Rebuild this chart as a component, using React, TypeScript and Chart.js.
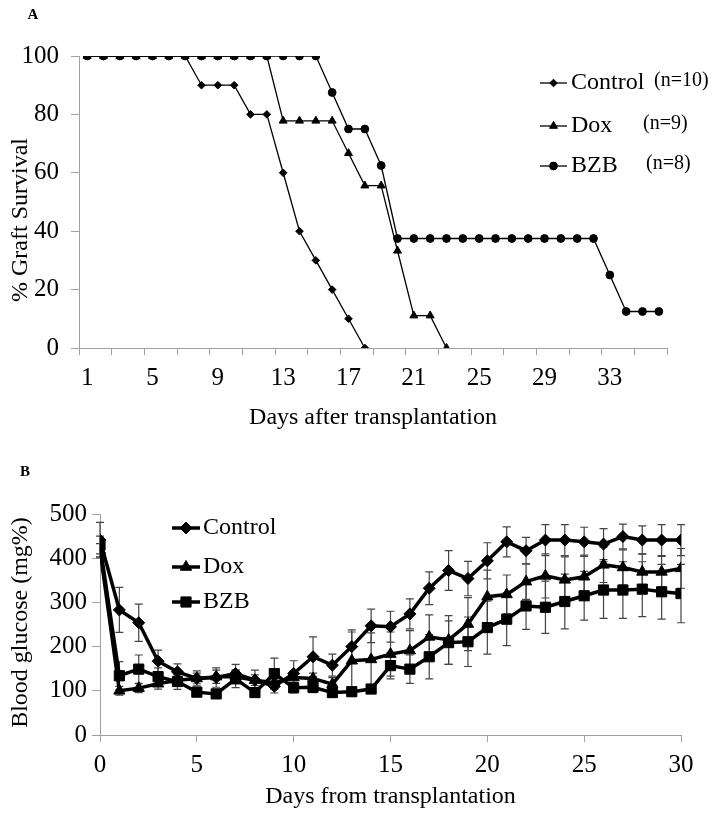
import React, { useEffect, useRef } from 'react';
import { Chart, registerables } from 'chart.js';
import { drawPoint } from 'chart.js/helpers';

Chart.register(...registerables);

const FONT = '"Liberation Serif", "Times New Roman", Times, serif';
const AXIS_GREY = '#a0a0a0';

// ---------- Panel A: graft survival ----------
const survivalDays = ['1','2','3','4','5','6','7','8','9','10','11','12','13','14','15','16','17','18','19','20','21','22','23','24','25','26','27','28','29','30','31','32','33','34','35','36'];
const survivalTickLabels = ['1','5','9','13','17','21','25','29','33'];
const survivalSeriesNames = ['Control', 'Dox', 'BZB'];
const survivalGroupSizes = ['(n=10)', '(n=9)', '(n=8)'];
const controlSurvival = [100,100,100,100,100,100,100,90,90,90,80,80,60,40,30,20,10,0,null,null,null,null,null,null,null,null,null,null,null,null,null,null,null,null,null,null];
const doxSurvival = [100,100,100,100,100,100,100,100,100,100,100,100,77.8,77.8,77.8,77.8,66.7,55.6,55.6,33.3,11.1,11.1,0,null,null,null,null,null,null,null,null,null,null,null,null,null];
const bzbSurvival = [100,100,100,100,100,100,100,100,100,100,100,100,100,100,100,87.5,75,75,62.5,37.5,37.5,37.5,37.5,37.5,37.5,37.5,37.5,37.5,37.5,37.5,37.5,37.5,25,12.5,12.5,12.5];
const survivalYTicks = [0, 20, 40, 60, 80, 100];

// ---------- Panel B: blood glucose ----------
const glucoseDays = [0,1,2,3,4,5,6,7,8,9,10,11,12,13,14,15,16,17,18,19,20,21,22,23,24,25,26,27,28,29,30];
const glucoseSeriesNames = ['Control', 'Dox', 'BZB'];
const controlGlucose = [441,283,254,167,143,128,130,139,124,110,139,177,158,200,247,245,274,332,372,354,394,437,417,441,441,437,432,449,441,441,441];
const controlGlucoseErr = [40,51,42,25,18,17,22,21,23,15,29,45,25,38,38,35,34,37,45,39,41,34,30,35,35,33,35,28,32,35,35];
const doxGlucose = [418,100,106,116,124,128,132,132,124,118,130,128,115,168,171,183,191,222,215,251,313,318,347,360,351,358,385,379,369,369,377];
const doxGlucoseErr = [15,10,10,12,12,12,15,15,12,12,15,12,15,65,60,50,45,50,55,60,60,44,40,50,52,49,40,40,41,35,45];
const bzbGlucose = [430,134,149,132,121,97,93,127,96,139,107,108,96,98,104,157,149,177,209,211,243,262,292,289,302,315,328,328,330,324,320];
const bzbGlucoseErr = [20,32,32,20,18,10,10,20,10,35,12,12,10,10,10,30,32,50,49,56,60,60,53,59,62,55,64,64,62,62,66];
const glucoseYTicks = [0, 100, 200, 300, 400, 500];
const glucoseXTicks = [0, 5, 10, 15, 20, 25, 30];

// ---------- plugins ----------
const errorBarPlugin = {
  id: 'errorBars',
  beforeDatasetsDraw(chart: any, _args: any, opts: any) {
    const ctx = chart.ctx;
    const yScale = chart.scales.y;
    chart.data.datasets.forEach((ds: any, di: number) => {
      if (!ds.errors) return;
      const meta = chart.getDatasetMeta(di);
      ctx.save();
      ctx.strokeStyle = opts.color;
      ctx.lineWidth = opts.width;
      meta.data.forEach((pt: any, i: number) => {
        const v = ds.values[i];
        const e = ds.errors[i];
        if (v == null || e == null) return;
        const yt = yScale.getPixelForValue(v + e);
        const yb = yScale.getPixelForValue(v - e);
        const c = opts.cap;
        ctx.beginPath();
        ctx.moveTo(pt.x, yt); ctx.lineTo(pt.x, yb);
        ctx.moveTo(pt.x - c, yt); ctx.lineTo(pt.x + c, yt);
        ctx.moveTo(pt.x - c, yb); ctx.lineTo(pt.x + c, yb);
        ctx.stroke();
      });
      ctx.restore();
    });
  },
};

const legendPlugin = {
  id: 'drawnLegend',
  afterDraw(chart: any, _args: any, opts: any) {
    const ctx = chart.ctx;
    chart.data.datasets.forEach((ds: any, i: number) => {
      const y = opts.rows[i];
      ctx.save();
      ctx.strokeStyle = '#000';
      ctx.fillStyle = '#000';
      ctx.lineWidth = ds.borderWidth;
      ctx.beginPath();
      ctx.moveTo(opts.x, y);
      ctx.lineTo(opts.x + opts.lineLen, y);
      ctx.stroke();
      ctx.lineWidth = 1;
      drawPoint(ctx, { pointStyle: ds.pointStyle, radius: ds.pointRadius, rotation: 0, borderWidth: 1 } as any, opts.x + opts.lineLen / 2, y);
      ctx.font = `${opts.fontSize}px ${FONT}`;
      ctx.textAlign = 'left';
      ctx.textBaseline = 'middle';
      ctx.fillText(ds.label, opts.x + opts.lineLen + opts.gap, y);
      if (opts.notes) {
        ctx.font = `${opts.noteSize}px ${FONT}`;
        ctx.fillText(opts.notes[i], opts.noteX[i], y - 2);
      }
      ctx.restore();
    });
  },
};

const titlesPlugin = {
  id: 'axisTitles',
  afterDraw(chart: any, _args: any, opts: any) {
    const { ctx, chartArea } = chart;
    ctx.save();
    ctx.fillStyle = '#000';
    ctx.textAlign = 'center';
    ctx.textBaseline = 'middle';
    ctx.font = `${opts.size}px ${FONT}`;
    ctx.fillText(opts.xTitle, (chartArea.left + chartArea.right) / 2, chartArea.bottom + opts.xOffset);
    ctx.save();
    ctx.translate(chartArea.left - opts.yOffset, (chartArea.top + chartArea.bottom) / 2 + opts.yShift);
    ctx.rotate(-Math.PI / 2);
    ctx.fillText(opts.yTitle, 0, 0);
    ctx.restore();
    ctx.font = `bold ${opts.panelSize}px ${FONT}`;
    ctx.fillText(opts.panel, opts.panelX, opts.panelY);
    ctx.restore();
  },
};

function SurvivalChart() {
  const ref = useRef<HTMLCanvasElement>(null);
  useEffect(() => {
    const markers = ['rectRot', 'triangle', 'circle'];
    const radii = [3.8, 4.6, 3.9];
    const series = [controlSurvival, doxSurvival, bzbSurvival];
    const chart = new Chart(ref.current as HTMLCanvasElement, {
      type: 'line',
      data: {
        labels: survivalDays,
        datasets: series.map((d, i) => ({
          label: survivalSeriesNames[i],
          data: d,
          borderColor: '#000',
          backgroundColor: '#000',
          borderWidth: 1.3,
          pointStyle: markers[i],
          pointRadius: radii[i],
          pointBackgroundColor: '#000',
          pointBorderColor: '#000',
          pointBorderWidth: 1,
          tension: 0,
          spanGaps: false,
        })),
      },
      plugins: [legendPlugin, titlesPlugin],
      options: {
        animation: false,
        responsive: true,
        maintainAspectRatio: false,
        layout: { padding: { left: 0, right: 53, top: 56, bottom: 0 } },
        scales: {
          x: {
            type: 'category',
            offset: true,
            afterFit: (s: any) => { s.height = 445 - 348; },
            grid: {
              offset: true,
              drawOnChartArea: false,
              drawTicks: true,
              tickLength: 7,
              color: (c: any) => (c.index === undefined || c.index % 2 === 0 ? AXIS_GREY : 'rgba(0,0,0,0)'),
            },
            border: { color: AXIS_GREY, width: 1 },
            ticks: {
              autoSkip: false,
              maxRotation: 0,
              padding: 8,
              color: '#000',
              font: { family: FONT, size: 25 },
              callback: (_v: any, i: number) => (survivalTickLabels.includes(survivalDays[i]) ? survivalDays[i] : ''),
            },
          },
          y: {
            min: 0,
            max: 100,
            afterFit: (s: any) => { s.width = 79; },
            afterBuildTicks: (s: any) => { s.ticks = survivalYTicks.map((v) => ({ value: v })); },
            grid: { drawOnChartArea: false, tickLength: 8, color: AXIS_GREY },
            border: { color: AXIS_GREY, width: 1 },
            ticks: { padding: 12, color: '#000', font: { family: FONT, size: 25 } },
          },
        },
        plugins: {
          legend: { display: false },
          tooltip: { enabled: false },
          drawnLegend: {
            x: 540, lineLen: 27, gap: 4, fontSize: 24, rows: [83, 126, 166],
            notes: survivalGroupSizes, noteX: [654, 643, 646], noteSize: 20,
          },
          axisTitles: {
            size: 24,
            xTitle: 'Days after transplantation', xOffset: 70,
            yTitle: '% Graft Survival', yOffset: 58, yShift: 18,
            panel: 'A', panelSize: 15, panelX: 33, panelY: 15,
          },
        } as any,
      },
    } as any);
    return () => chart.destroy();
  }, []);
  return (
    <div style={{ position: 'absolute', left: 0, top: 0, width: 720, height: 445 }}>
      <canvas ref={ref} />
    </div>
  );
}

function GlucoseChart() {
  const ref = useRef<HTMLCanvasElement>(null);
  useEffect(() => {
    const markers = ['rectRot', 'triangle', 'rect'];
    const radii = [6, 6.5, 7.2];
    const series = [controlGlucose, doxGlucose, bzbGlucose];
    const errs = [controlGlucoseErr, doxGlucoseErr, bzbGlucoseErr];
    const chart = new Chart(ref.current as HTMLCanvasElement, {
      type: 'line',
      data: {
        datasets: series.map((d, i) => ({
          label: glucoseSeriesNames[i],
          data: glucoseDays.map((x, j) => ({ x, y: d[j] })),
          values: d,
          errors: errs[i],
          borderColor: '#000',
          backgroundColor: '#000',
          borderWidth: 3.5,
          pointStyle: markers[i],
          pointRadius: radii[i],
          pointBackgroundColor: '#000',
          pointBorderColor: '#000',
          pointBorderWidth: 1,
          tension: 0,
        })),
      },
      plugins: [errorBarPlugin, legendPlugin, titlesPlugin],
      options: {
        animation: false,
        responsive: true,
        maintainAspectRatio: false,
        layout: { padding: { left: 0, right: 39, top: 69, bottom: 0 } },
        scales: {
          x: {
            type: 'linear',
            min: 0,
            max: 30,
            afterFit: (s: any) => { s.height = 372 - 290; },
            afterBuildTicks: (s: any) => { s.ticks = glucoseXTicks.map((v) => ({ value: v })); },
            grid: { drawOnChartArea: false, tickLength: 7, color: AXIS_GREY },
            border: { color: AXIS_GREY, width: 1 },
            ticks: { padding: 8, maxRotation: 0, color: '#000', font: { family: FONT, size: 25 } },
          },
          y: {
            min: 0,
            max: 500,
            afterFit: (s: any) => { s.width = 100; },
            afterBuildTicks: (s: any) => { s.ticks = glucoseYTicks.map((v) => ({ value: v })); },
            grid: { drawOnChartArea: false, tickLength: 8, color: AXIS_GREY },
            border: { color: AXIS_GREY, width: 1 },
            ticks: { padding: 5, color: '#000', font: { family: FONT, size: 25 } },
          },
        },
        plugins: {
          legend: { display: false },
          tooltip: { enabled: false },
          errorBars: { color: '#444', width: 1.2, cap: 4 },
          drawnLegend: { x: 172, lineLen: 28, gap: 3, fontSize: 24, rows: [83, 122, 157] },
          axisTitles: {
            size: 24,
            xTitle: 'Days from transplantation', xOffset: 62,
            yTitle: 'Blood glucose (mg%)', yOffset: 79, yShift: -2,
            panel: 'B', panelSize: 15, panelX: 25, panelY: 27,
          },
        } as any,
      },
    } as any);
    return () => chart.destroy();
  }, []);
  return (
    <div style={{ position: 'absolute', left: 0, top: 445, width: 720, height: 372 }}>
      <canvas ref={ref} />
    </div>
  );
}

export default function App() {
  return (
    <div style={{ position: 'absolute', left: 0, top: 0, width: 720, height: 817, background: '#fff' }}>
      <SurvivalChart />
      <GlucoseChart />
    </div>
  );
}
